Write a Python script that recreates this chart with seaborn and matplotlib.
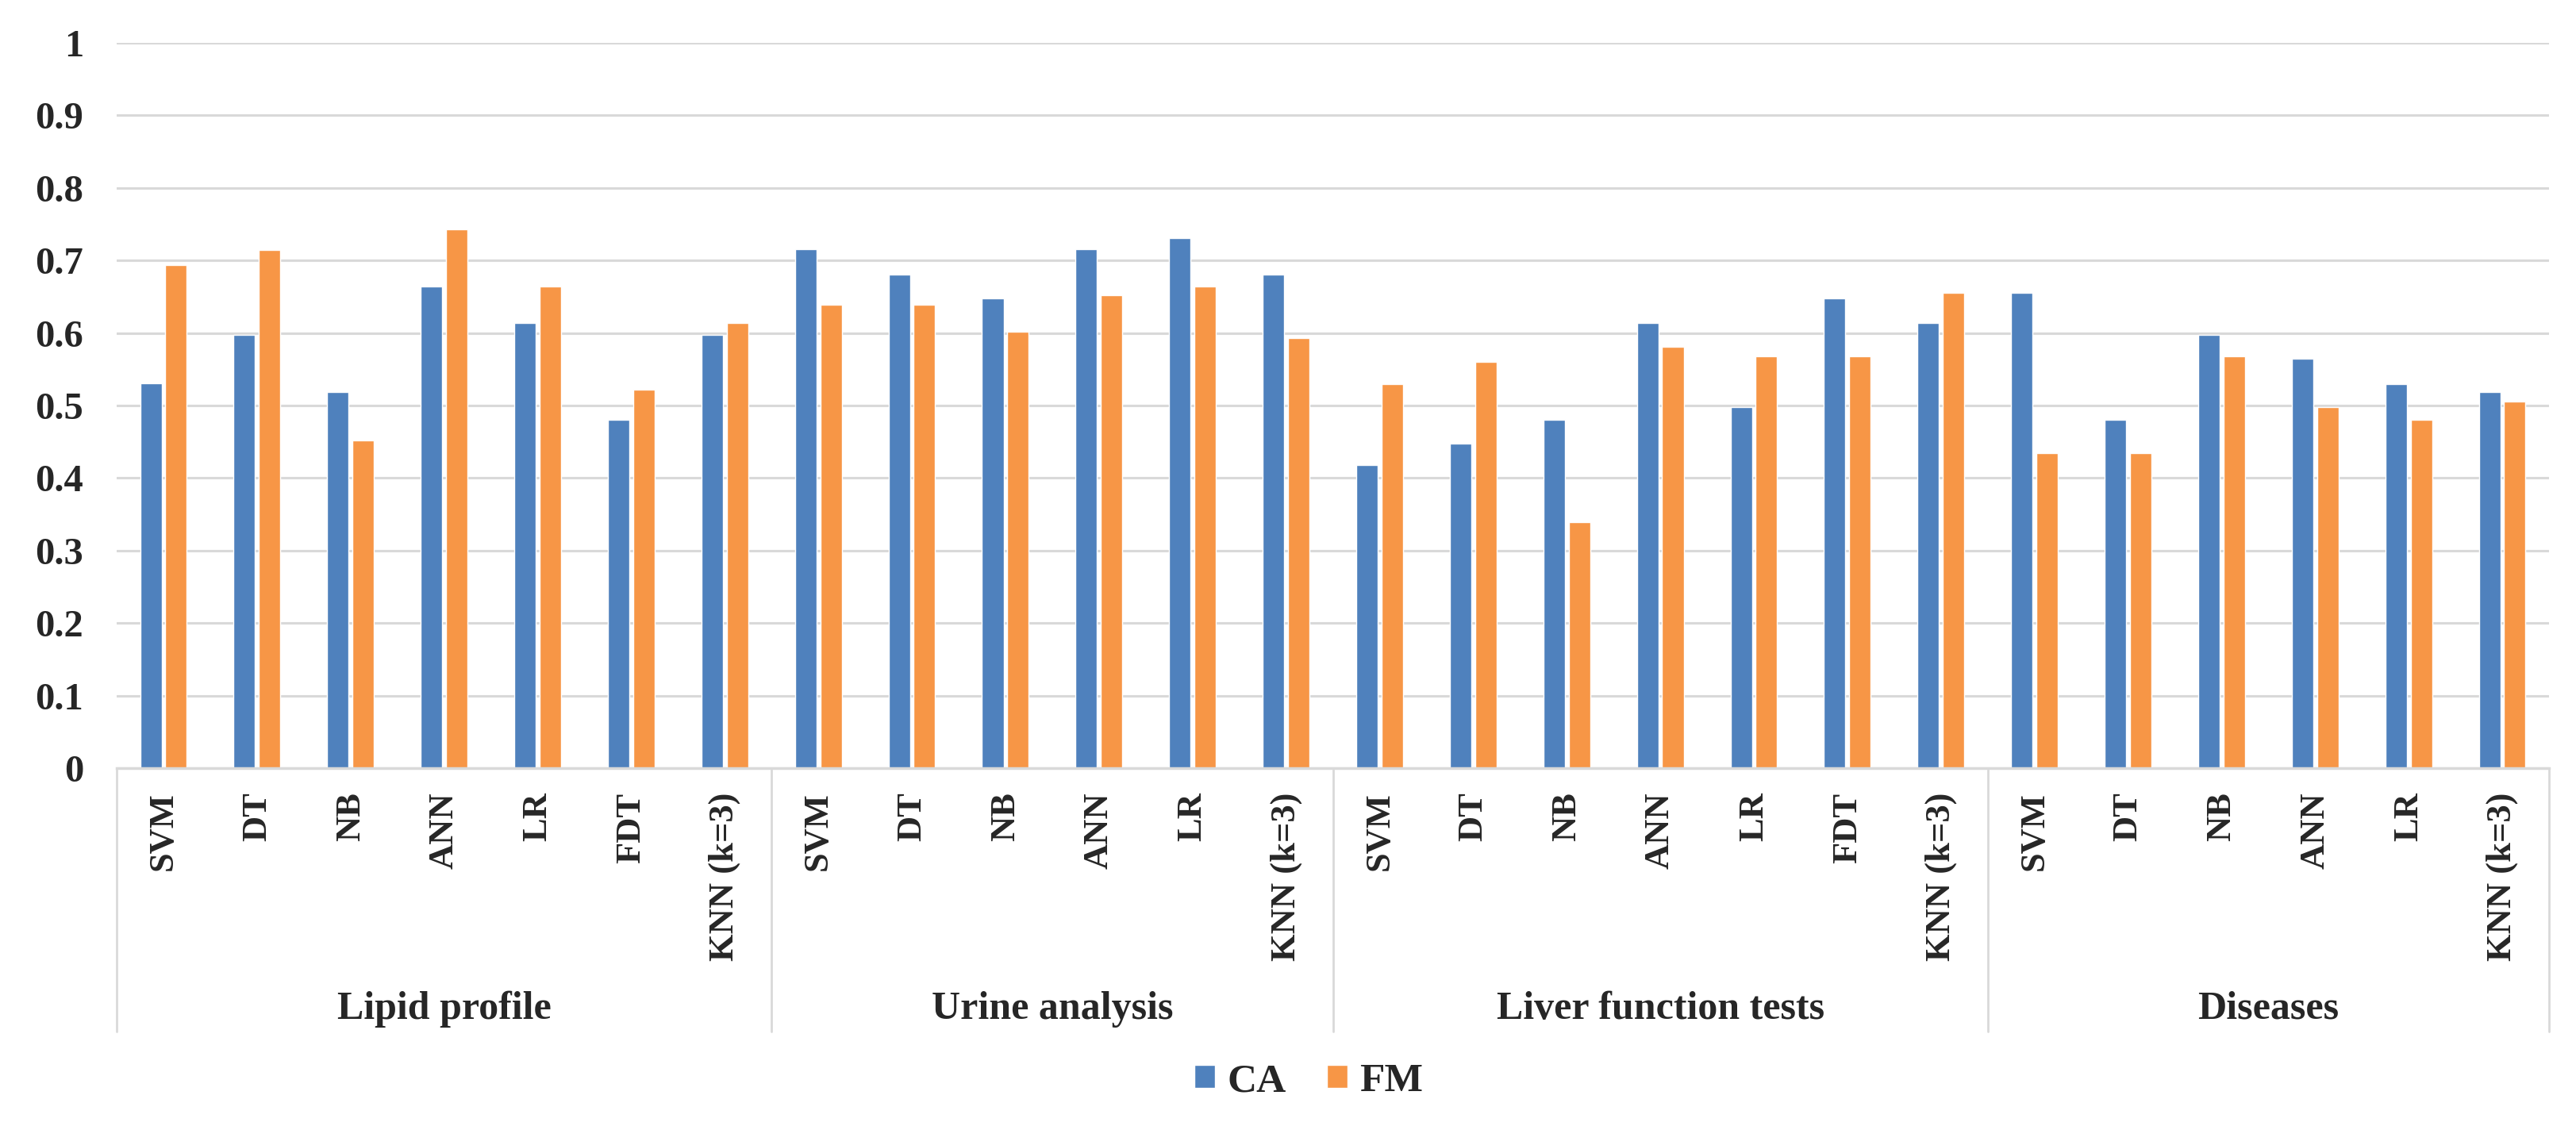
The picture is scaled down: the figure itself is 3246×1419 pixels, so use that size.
import numpy as np
import pandas as pd
import seaborn as sns
import matplotlib.pyplot as plt
from matplotlib.transforms import blended_transform_factory

groups = ["Lipid profile", "Urine analysis", "Liver function tests", "Diseases"]
methods_lipid = ["SVM", "DT", "NB", "ANN", "LR", "FDT", "KNN (k=3)"]
methods_urine = ["SVM", "DT", "NB", "ANN", "LR", "KNN (k=3)"]
methods_liver = ["SVM", "DT", "NB", "ANN", "LR", "FDT", "KNN (k=3)"]
methods_dis = ["SVM", "DT", "NB", "ANN", "LR", "KNN (k=3)"]

ca_lipid = [0.531, 0.597, 0.519, 0.664, 0.614, 0.480, 0.597]
fm_lipid = [0.694, 0.714, 0.452, 0.743, 0.664, 0.522, 0.614]
ca_urine = [0.715, 0.681, 0.648, 0.715, 0.731, 0.681]
fm_urine = [0.639, 0.639, 0.602, 0.652, 0.664, 0.593]
ca_liver = [0.418, 0.447, 0.480, 0.614, 0.498, 0.648, 0.614]
fm_liver = [0.530, 0.560, 0.339, 0.581, 0.568, 0.568, 0.655]
ca_dis = [0.655, 0.480, 0.597, 0.565, 0.530, 0.519]
fm_dis = [0.434, 0.434, 0.568, 0.498, 0.480, 0.505]

method_lists = [methods_lipid, methods_urine, methods_liver, methods_dis]
ca_lists = [ca_lipid, ca_urine, ca_liver, ca_dis]
fm_lists = [fm_lipid, fm_urine, fm_liver, fm_dis]

rows = []
for g, ms, cas, fms in zip(groups, method_lists, ca_lists, fm_lists):
    for m, a, f in zip(ms, cas, fms):
        key = g + "|" + m
        rows.append({"key": key, "method": m, "group": g, "series": "CA", "value": a})
        rows.append({"key": key, "method": m, "group": g, "series": "FM", "value": f})
df = pd.DataFrame(rows)
order = list(dict.fromkeys(df["key"]))

sns.set_style("white")
plt.rcParams["font.family"] = ["Liberation Serif", "DejaVu Serif"]
plt.rcParams["font.weight"] = "bold"

grid_c = "#D9D9D9"
fig = plt.figure(figsize=(32.46, 14.19), dpi=100)
ax = fig.add_axes([147 / 3246, 1 - 968 / 1419, (3212 - 147) / 3246, (968 - 54) / 1419])

sns.barplot(data=df, x="key", y="value", hue="series", order=order,
            hue_order=["CA", "FM"], palette={"CA": "#4F81BD", "FM": "#F79646"},
            width=0.54, gap=0.15, saturation=1, ax=ax, legend=True)

ax.set_ylim(0, 1)
ax.set_xlim(-0.5, len(order) - 0.5)
ax.set_yticks(np.arange(0, 1.01, 0.1))
ax.set_yticklabels(["0"] + [f"{v:.1f}" for v in np.arange(0.1, 0.95, 0.1)] + ["1"],
                   fontsize=35, fontweight="bold")
ax.yaxis.grid(True, color=grid_c, linewidth=2.2)
ax.set_axisbelow(True)
for s in ["top", "right", "left"]:
    ax.spines[s].set_visible(False)
ax.spines["bottom"].set_color(grid_c)
ax.spines["bottom"].set_linewidth(2.5)
ax.tick_params(axis="y", length=0, pad=30)
ax.tick_params(axis="x", length=0, pad=22)
ax.set_xticks(range(len(order)))
ax.set_xticklabels(df.drop_duplicates("key")["method"], rotation=90,
                   fontsize=32, fontweight="bold", va="top")
ax.set_xlabel("")
ax.set_ylabel("")

trans = blended_transform_factory(ax.transData, ax.transAxes)
sep_bottom = -(1300 - 968) / 914
pos = -0.5
bounds = [pos]
for g, ms in zip(groups, method_lists):
    ax.text(pos + len(ms) / 2, -(1272 - 968) / 914, g, transform=trans,
            ha="center", va="center", fontsize=36, fontweight="bold")
    pos += len(ms)
    bounds.append(pos)
for b in bounds:
    ax.plot([b, b], [0, sep_bottom], transform=trans, color=grid_c,
            linewidth=2.0, clip_on=False)

handles, labels = ax.get_legend_handles_labels()
ax.legend(handles, labels, loc="center", bbox_to_anchor=(1649 / 3246, 1 - 1363 / 1419),
          bbox_transform=fig.transFigure, ncol=2, frameon=False, fontsize=37,
          handlelength=0.5, handleheight=0.5, handletextpad=0.3, columnspacing=1.0)

fig.savefig("out.png", dpi=100)
